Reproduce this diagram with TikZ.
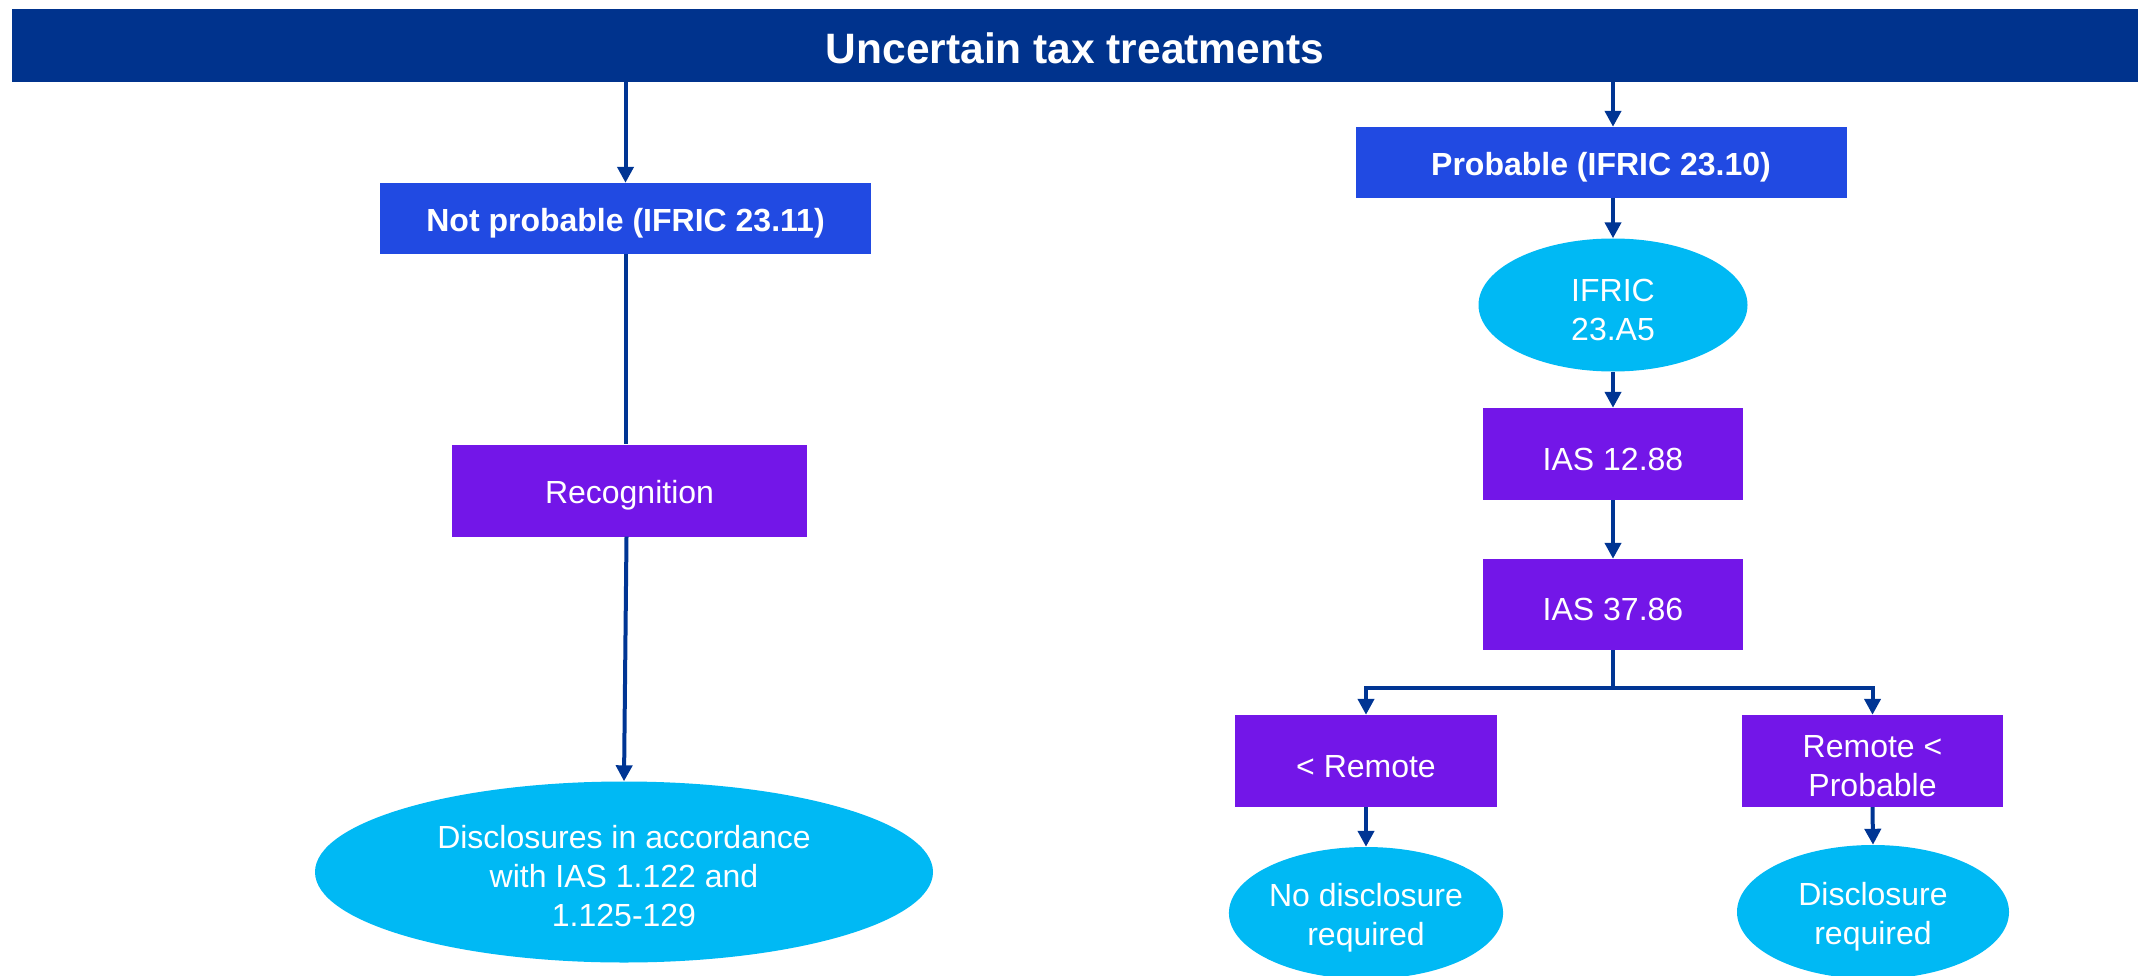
\documentclass[tikz,border=0pt]{standalone}
\usepackage{fontspec}
\setmainfont{Liberation Sans}
\usetikzlibrary{shapes.geometric,arrows.meta}
\definecolor{hdrc}{HTML}{00338D}
\definecolor{bluebox}{HTML}{214AE2}
\definecolor{purplebox}{HTML}{7316E8}
\definecolor{cyanell}{HTML}{00B9F4}
\definecolor{arrc}{HTML}{003594}
\newcommand{\fstrut}{\rule{0pt}{32pt}}
\tikzset{
  txtbase/.style={text=white,align=center,font=\fontsize{32}{39}\selectfont,inner sep=0pt},
  txt/.style={txtbase,execute at begin node={\rule{0pt}{33pt}}},
  bluerect/.style={txt,rectangle,fill=bluebox,font=\fontsize{32}{39}\selectfont\bfseries},
  purplerect/.style={txt,rectangle,fill=purplebox},
  cyanell/.style={txt,ellipse,fill=cyanell},
  conn/.style={draw=arrc,line width=4pt},
  arr/.style={conn,-{Triangle[length=16pt,width=16pt]}}
}
\begin{document}
\begin{tikzpicture}[x=1pt,y=-1pt]
\useasboundingbox (0,0) rectangle (2138,976);
\node[txtbase,fill=hdrc,minimum width=2126pt,minimum height=73pt,font=\fontsize{42.5}{50}\selectfont\bfseries] (hdr) at (1075,45.5) {\rule{0pt}{36pt}Uncertain tax treatments};
% left branch
\node[bluerect,minimum width=491pt,minimum height=71pt] (notprob) at (625.5,218.5) {Not probable (IFRIC 23.11)};
\node[purplerect,minimum width=355pt,minimum height=92pt] (recog) at (629.5,490.5) {Recognition};
\node[cyanell,minimum width=618pt,minimum height=181pt] (disc) at (624,872) {\fstrut Disclosures in accordance\\with IAS 1.122 and\\1.125-129};
% right branch
\node[bluerect,minimum width=491pt,minimum height=71pt] (prob) at (1601,162.5) {Probable (IFRIC 23.10)};
\node[cyanell,minimum width=269pt,minimum height=133pt] (ifric) at (1613,305) {\fstrut IFRIC\\23.A5};
\node[purplerect,minimum width=260pt,minimum height=92pt] (ias12) at (1613,454) {IAS 12.88};
\node[purplerect,minimum width=260pt,minimum height=91pt] (ias37) at (1613,604.5) {IAS 37.86};
\node[purplerect,minimum width=262pt,minimum height=92pt] (remote) at (1366,761) {< Remote};
\node[purplerect,minimum width=261pt,minimum height=92pt] (rp) at (1872.5,761) {\fstrut Remote <\\Probable};
\node[cyanell,minimum width=272pt,minimum height=132pt] (nodisc) at (1366,913) {\fstrut No disclosure\\required};
\node[cyanell,minimum width=272pt,minimum height=134pt] (discreq) at (1873,912) {\fstrut Disclosure\\required};
\coordinate (br) at (1613,688);
% connectors
\draw[arr] (hdr.south -| notprob.north) -- (notprob.north);
\draw[conn] (notprob.south) -- (notprob.south |- recog.north);
\draw[arr] ([xshift=-3pt]recog.south) -- (disc.north);
\draw[arr] (hdr.south -| ifric.north) -- (prob.north -| ifric.north);
\draw[arr] (prob.south -| ifric.north) -- (ifric.north);
\draw[arr] (ifric.south) -- (ias12.north);
\draw[arr] (ias12.south) -- (ias37.north);
\draw[conn] (ias37.south) -- (br);
\draw[arr] (br) -| (remote.north);
\draw[arr] (br) -| (rp.north);
\draw[arr] (remote.south) -- (nodisc.north);
\draw[arr] (rp.south) -- (discreq.north);
\end{tikzpicture}
\end{document}
